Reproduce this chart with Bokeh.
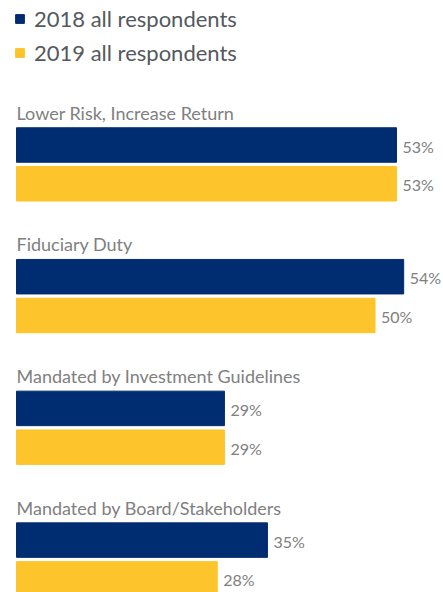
from bokeh.plotting import figure
from bokeh.models import Range1d, Legend, LegendItem
from bokeh.embed import file_html
from bokeh.resources import INLINE
from bokeh.core.properties import value

categories = ["Lower Risk, Increase Return", "Fiduciary Duty",
              "Mandated by Investment Guidelines", "Mandated by Board/Stakeholders"]
values_2018 = [53, 54, 29, 35]
values_2019 = [53, 50, 29, 28]
series = ["2018 all respondents", "2019 all respondents"]
colors = ["#002C72", "#FDC52B"]

FONT = "Lato"
W, H = 443, 592
PX = 7.17          # pixels per percentage point
X0 = 16            # pixel offset of the zero line
GROUP = 131.7      # vertical distance between groups
BAR_H = 34.5

p = figure(width=W, height=H, output_backend="svg", toolbar_location=None,
           x_range=Range1d(-X0 / PX, (W - X0) / PX),
           y_range=Range1d(H, 0), min_border=0)
p.xaxis.visible = False
p.yaxis.visible = False
p.grid.visible = False
p.outline_line_color = None
p.background_fill_color = "white"

idx = list(range(len(categories)))
y18 = [144.5 + GROUP * i for i in idx]
y19 = [183.3 + GROUP * i for i in idx]
ylab = [112 + GROUP * i for i in idx]

r18 = p.hbar(y=y18, left=0, right=values_2018, height=BAR_H, color=colors[0])
r19 = p.hbar(y=y19, left=0, right=values_2019, height=BAR_H, color=colors[1])

p.text(x=[0] * len(categories), y=ylab, text=categories,
       text_font=value(FONT), text_font_size="18px", text_color="#808080",
       text_baseline="alphabetic", text_align="left")

off = 6 / PX
p.text(x=[v + off for v in values_2018], y=[y + 1 for y in y18],
       text=[f"{v}%" for v in values_2018],
       text_font=value(FONT), text_font_size="16px", text_color="#808080",
       text_baseline="middle", text_align="left")
p.text(x=[v + off for v in values_2019], y=[y + 1 for y in y19],
       text=[f"{v}%" for v in values_2019],
       text_font=value(FONT), text_font_size="16px", text_color="#808080",
       text_baseline="middle", text_align="left")

legend = Legend(items=[LegendItem(label=series[0], renderers=[r18]),
                       LegendItem(label=series[1], renderers=[r19])],
                location=(14, 592 - 66), orientation="vertical",
                glyph_width=11, glyph_height=11, label_height=24,
                label_standoff=9, spacing=7, padding=0, margin=0,
                label_text_font=FONT, label_text_font_size="22px",
                label_text_color="#54595e",
                border_line_color=None, background_fill_alpha=0)
p.add_layout(legend)

open("out.html", "w").write(file_html(p, INLINE))
